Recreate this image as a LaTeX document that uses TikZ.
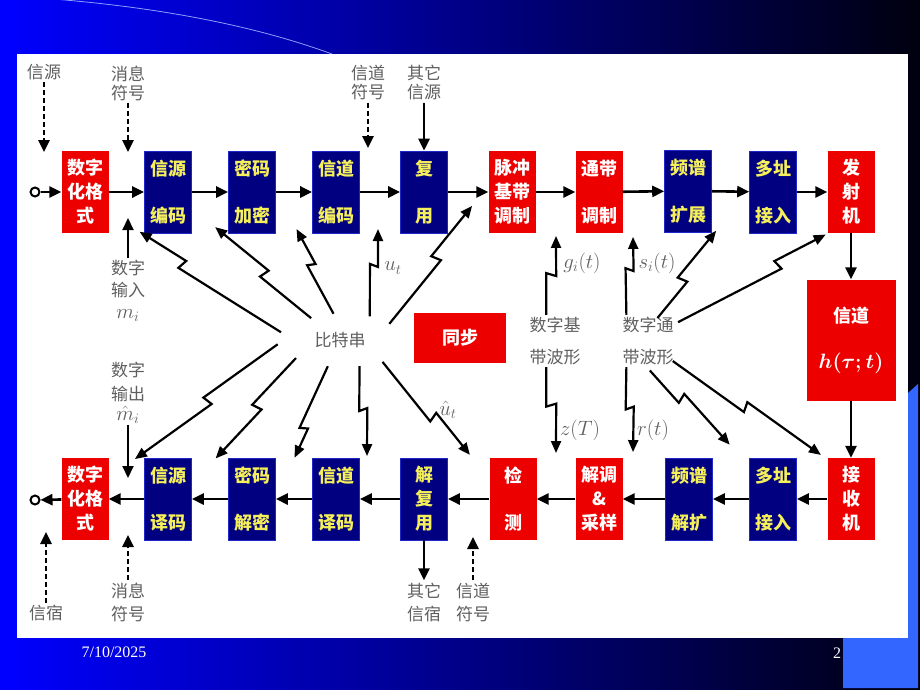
\documentclass[tikz,border=0pt]{standalone}
\usepackage{fontspec}
\newfontfamily\cjk{Noto Sans CJK SC}
\newfontfamily\tnr{Liberation Serif}
\usetikzlibrary{calc,arrows.meta,shapes.geometric}
\definecolor{boxred}{RGB}{236,0,0}
\definecolor{boxnavy}{RGB}{0,0,128}
\definecolor{boxedge}{RGB}{30,40,200}
\definecolor{boxyellow}{RGB}{245,240,90}
\definecolor{notegray}{RGB}{95,95,95}
\definecolor{bgblue}{RGB}{0,0,255}
\definecolor{bgmid}{RGB}{0,0,190}
\definecolor{bgdark}{RGB}{0,0,15}
\definecolor{lightblue}{RGB}{51,102,255}
\definecolor{arcblue}{RGB}{140,160,255}
% lightning arrow: [jog position:side offset](from)(to)
\def\zap[#1:#2](#3)(#4){\draw[zapline] ($(#3)!#2!90:(#4)$) -- ($(#3)!#1!(#4)!#2!90:(#4)$) -- ($(#3)!#1!(#4)!-3pt!(#4)!#2!-90:(#4)$) -- ($(#4)!#2!90:(#3)$);}
\tikzset{
  redbox/.style={fill=boxred, minimum width=47pt, minimum height=82pt, inner sep=0pt, align=center, text=white, font=\cjk\bfseries\fontsize{18}{24}\selectfont},
  bluebox/.style={redbox, fill=boxnavy, draw=boxedge, line width=0.6pt, text=boxyellow},
  note/.style={align=center, text=notegray, font=\cjk\fontsize{17}{19}\selectfont, inner sep=2pt},
  sym/.style={text=notegray, font=\fontsize{21}{22}\selectfont, inner sep=1pt},
  flow/.style={line width=2.6pt, -{Triangle[length=12pt,width=11pt]}},
  feed/.style={flow, dash pattern=on 5pt off 3pt},
  zapline/.style={line width=2.2pt, -{Triangle[length=12pt,width=10pt]}},
  foot/.style={text=white, font=\tnr\fontsize{16}{18}\selectfont, inner sep=0pt}
}

\begin{document}
\begin{tikzpicture}[x=1pt,y=-1pt]
		%%%%% START %%%%%
		\useasboundingbox (0,0) rectangle (920,690);
		\shade[left color=bgblue, middle color=bgmid, right color=bgdark] (0,0) rectangle (920,690);
		\fill[bgblue] (0,0) rectangle (17,690);
		\draw[arcblue, line width=0.8pt] (40,-2) .. controls (150,6) and (250,24) .. (332,54);
		\fill[lightblue] (908,393) -- (918,384) -- (918,688) -- (843,688) -- (843,638) -- (908,638) -- cycle;
		\fill[white] (17,54) rectangle (908,638);
		\node[foot] (date) at (114,652) {7/10/2025};
		\node[foot] (page) at (837,653) {2};
		
		% transmitter chain
		\node[redbox] (fmt) at (85,192) {数字\\化格\\式};
		\node[bluebox] (srcenc) at (168,192) {信源\\[23pt]编码};
		\node[bluebox] (encrypt) at (252,192) {密码\\[23pt]加密};
		\node[bluebox] (chenc) at (336,192) {信道\\[23pt]编码};
		\node[bluebox] (mux) at (424,192) {复\\[23pt]用};
		\node[redbox] (pulse) at (512,192) {脉冲\\基带\\调制};
		\node[redbox] (bandpass) at (599,192) {通带\\[23pt]调制};
		\node[bluebox] (spread) at (688,191) {频谱\\[23pt]扩展};
		\node[bluebox] (access) at (773,192) {多址\\[23pt]接入};
		\node[redbox] (tx) at (851,192) {发\\射\\机};
		
		\node[redbox, minimum width=89pt, minimum height=121pt] (chan) at (851,340) {信道\\[22pt]{\fontsize{21}{24}\selectfont\boldmath$h(\tau;t)$}};
		\node[redbox, minimum width=92pt, minimum height=50pt] (sync) at (460,338) {同步};
		
		% receiver chain
		\node[redbox] (fmtout) at (85,499) {数字\\化格\\式};
		\node[bluebox] (srcdec) at (168,499) {信源\\[23pt]译码};
		\node[bluebox] (decrypt) at (252,499) {密码\\[23pt]解密};
		\node[bluebox] (chdec) at (336,499) {信道\\[23pt]译码};
		\node[bluebox] (demux) at (424,499) {解\\复\\用};
		\node[redbox] (detect) at (513,499) {检\\[23pt]测};
		\node[redbox] (demod) at (599,499) {解调\\\&\\采样};
		\node[bluebox] (despread) at (689,499) {频谱\\[23pt]解扩};
		\node[bluebox] (accessr) at (773,499) {多址\\[23pt]接入};
		\node[redbox] (rx) at (851,499) {接\\收\\机};
		
		\node[circle, draw, fill=white, line width=2pt, minimum size=9pt, inner sep=0pt] (inp) at (35,192) {};
		\node[circle, draw, fill=white, line width=2pt, minimum size=9pt, inner sep=0pt] (outp) at (35,500) {};
		
		\draw[flow] (inp) -- (fmt);
		\draw[flow] (fmt) -- (srcenc);
		\draw[flow] (srcenc) -- (encrypt);
		\draw[flow] (encrypt) -- (chenc);
		\draw[flow] (chenc) -- (mux);
		\draw[flow] (mux) -- (pulse);
		\draw[flow] (pulse) -- (bandpass);
		\draw[flow] (bandpass) -- (spread);
		\draw[flow] (spread) -- (access);
		\draw[flow] (access) -- (tx);
		\draw[flow] (tx) -- (chan);
		\draw[flow] (chan) -- (rx);
		\draw[flow] (rx) -- (accessr);
		\draw[flow] (accessr) -- (despread);
		\draw[flow] (despread) -- (demod);
		\draw[flow] (demod) -- (detect);
		\draw[flow] (detect) -- (demux);
		\draw[flow] (demux) -- (chdec);
		\draw[flow] (chdec) -- (decrypt);
		\draw[flow] (decrypt) -- (srcdec);
		\draw[flow] (srcdec) -- (fmtout);
		\draw[flow] (fmtout) -- (outp);
		
		% side inputs and outputs
		\node[note] (src) at (44,72) {信源};
		\node[note] (msg) at (128,83) {消息\\符号};
		\node[note] (chsym) at (368,83) {信道\\符号};
		\node[note] (other) at (424,83) {其它\\信源};
		\node[note] (din) at (128,291) {数字\\[3pt]输入\\[3pt]{\fontsize{21}{22}\selectfont$m_i$}};
		\node[note] (dout) at (128,382) {数字\\[5pt]输出};
		\node[sym, font=\fontsize{20}{21}\selectfont] (mhat) at (128,415) {$\hat{m}_i$};
		\node[note] (sink) at (46,613) {信宿};
		\node[note] (msg2) at (128,602) {消息\\[4pt]符号};
		\node[note] (other2) at (424,602) {其它\\[4pt]信宿};
		\node[note] (chsym2) at (473,602) {信道\\[4pt]符号};
		
		\coordinate (srcin) at (44,152);
		\coordinate (msgin) at (128,152);
		\coordinate (chin) at (368,148);
		\coordinate (dinup) at (128,218);
		\coordinate (doutdn) at (128,478);
		\coordinate (sinkup) at (46,532);
		\coordinate (msgup) at (128,535);
		\coordinate (chup) at (473,537);
		
		\draw[feed] (src) -- (srcin);
		\draw[feed] (msg) -- (msgin);
		\draw[feed] (chsym) -- (chin);
		\draw[flow] (other) -- (mux);
		\draw[flow, line width=2pt] (din) -- (dinup);
		\draw[flow, line width=2pt] (mhat) -- (doutdn);
		\draw[feed] (sink) -- (sinkup);
		\draw[feed] (msg2) -- (msgup);
		\draw[flow] (demux) -- (other2);
		\draw[feed] (chsym2) -- (chup);
		
		% bit stream and waveforms
		\node[note, ellipse, minimum width=124pt, minimum height=56pt, inner sep=0pt] (bits) at (340,340) {比特串};
		\node[note] (wb) at (555,341) {数字基\\[13pt]带波形};
		\node[note] (wp) at (648,341) {数字通\\[13pt]带波形};
		\node[sym] (ut) at (393,268) {$u_t$};
		\node[sym] (uh) at (448,410) {$\hat{u}_t$};
		\node[sym] (gi) at (582,263) {$g_i(t)$};
		\node[sym] (si) at (657,263) {$s_i(t)$};
		\node[sym] (zT) at (580,430) {$z(T)$};
		\node[sym] (rt) at (653,430) {$r(t)$};
		
		\coordinate (a1) at (137,236);
		\coordinate (a2) at (212,231);
		\coordinate (a3) at (293,231);
		\coordinate (a4) at (374,229);
		\coordinate (a5) at (476,209);
		\coordinate (b1) at (132,455);
		\coordinate (b2) at (212,455);
		\coordinate (b3) at (291,456);
		\coordinate (b4) at (363,456);
		\coordinate (b5) at (466,458);
		\coordinate (c1) at (551,236);
		\coordinate (c2) at (629,237);
		\coordinate (c3) at (720,234);
		\coordinate (c4) at (828,239);
		\coordinate (c5) at (551,453);
		\coordinate (c6) at (629,452);
		\coordinate (c7) at (726,448);
		\coordinate (c8) at (818,459);
		
		\zap[0.7:5pt](bits.168)(a1)
		\zap[0.5:5pt](bits.135)(a2)
		\zap[0.6:4pt](bits.96)(a3)
		\zap[0.6:4pt](bits.35)(a4)
		\zap[0.57:-5pt](bits.23)(a5)
		\zap[0.5:-5pt](bits.188)(b1)
		\zap[0.5:-5pt](bits.208)(b2)
		\zap[0.7:-4pt](bits.253)(b3)
		\zap[0.5:-4pt](bits.312)(b4)
		\zap[0.6:-5pt](bits.338)(b5)
		\zap[0.53:5pt](wb.98)(c1)
		\zap[0.6:4pt](wp.124)(c2)
		\zap[0.45:-5pt](wp.78)(c3)
		\zap[0.68:-5pt](wp.40)(c4)
		\zap[0.46:-5pt](wb.262)(c5)
		\zap[0.5:-4pt](wp.236)(c6)
		\zap[0.4:-5pt](wp.282)(c7)
		\zap[0.5:-5pt](wp.330)(c8)
		%%%%% END %%%%%
\end{tikzpicture}
\end{document}
